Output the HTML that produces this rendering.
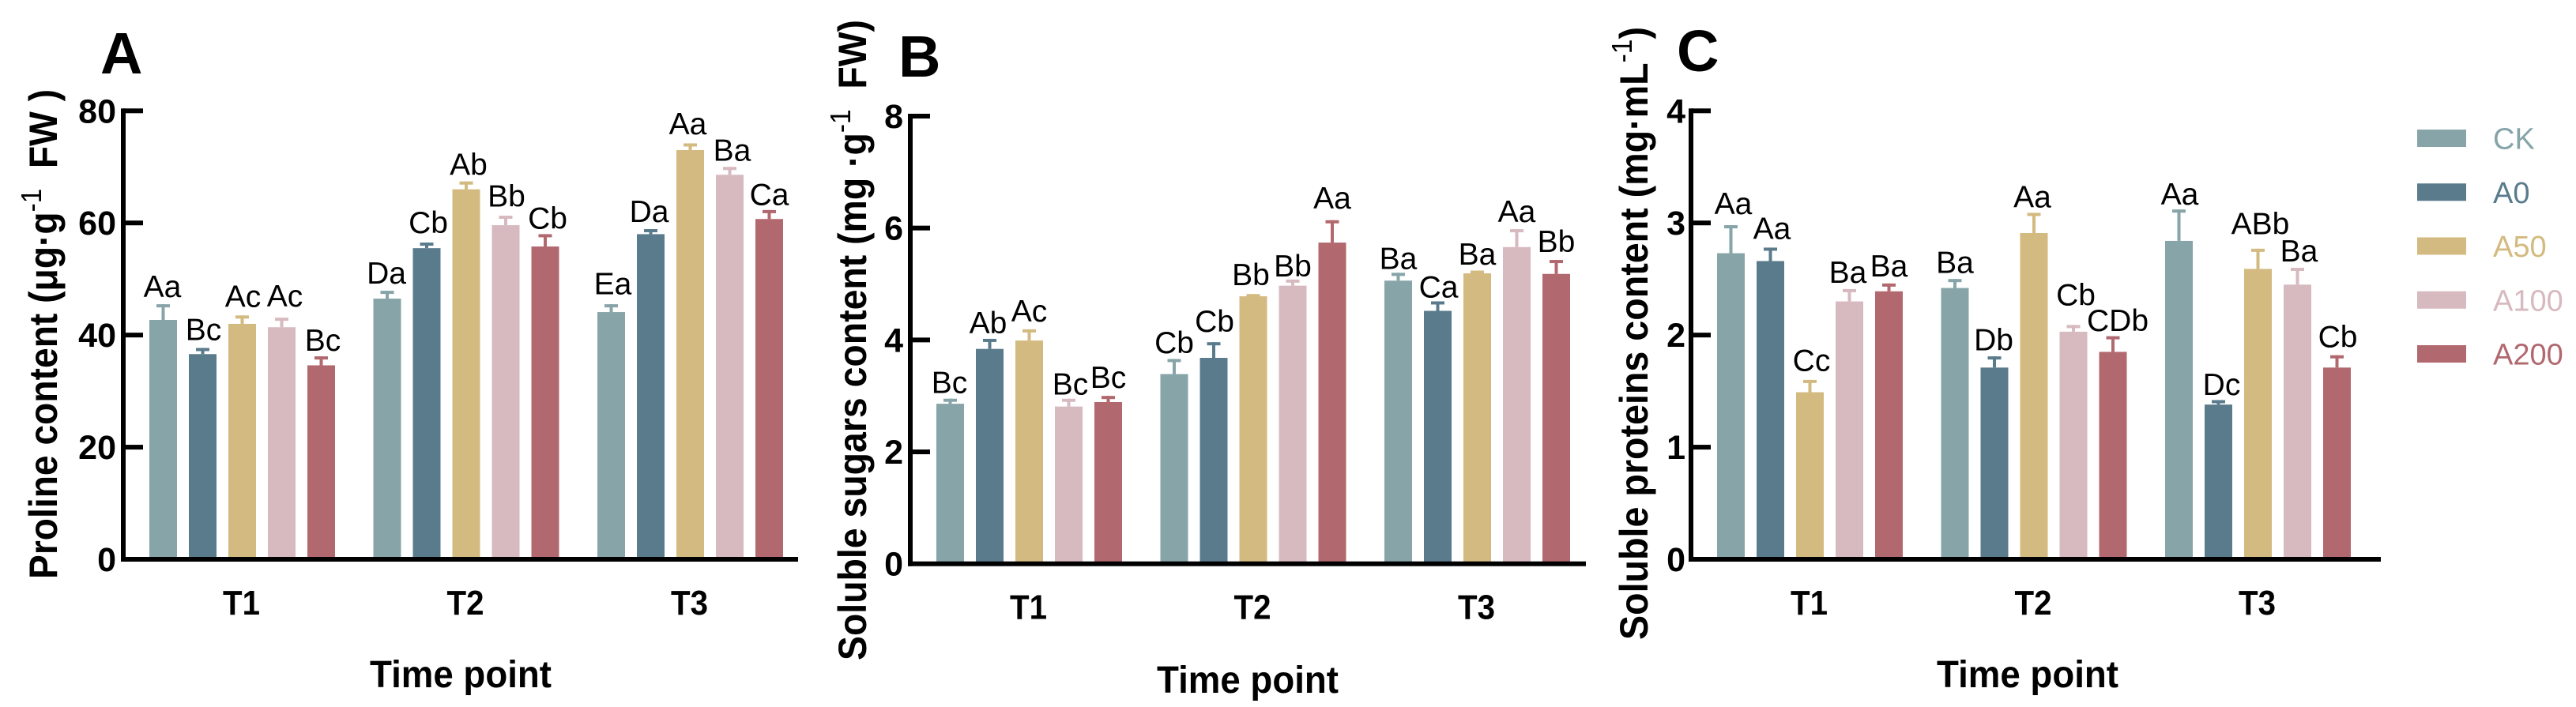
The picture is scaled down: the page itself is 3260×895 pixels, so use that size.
<!DOCTYPE html>
<html lang="en">
<head>
<meta charset="utf-8">
<title>Proline, soluble sugars and soluble proteins content</title>
<style>
html,body{margin:0;padding:0;background:#fff;}
svg{display:block;font-family:"Liberation Sans",Arial,sans-serif;}
</style>
</head>
<body>
<svg id="fig" xmlns="http://www.w3.org/2000/svg" width="3260" height="895" viewBox="0 0 3260 895">
  <rect x="0" y="0" width="3260" height="895" fill="#ffffff"/>

  <g id="panel-a"></g>
  <g id="panel-b"></g>
  <g id="panel-c"></g>

  <text x="127" y="93" font-size="74" font-weight="700">A</text>
  <text x="1137" y="97" font-size="74" font-weight="700">B</text>
  <text x="2122" y="90" font-size="74" font-weight="700">C</text>

  <text transform="translate(72,733) rotate(-90)" font-size="50" font-weight="700" textLength="620" lengthAdjust="spacingAndGlyphs">Proline content (μg·g<tspan dy="-20" font-size="36" font-weight="400">-1</tspan><tspan dy="20"> &#160;FW )</tspan></text>
  <text transform="translate(1096,836) rotate(-90)" font-size="50" font-weight="700" textLength="811" lengthAdjust="spacingAndGlyphs">Soluble sugars content (mg ·g<tspan dy="-20" font-size="36" font-weight="400">-1</tspan><tspan dy="20"> &#160;FW)</tspan></text>
  <text transform="translate(2085,810) rotate(-90)" font-size="50" font-weight="700" textLength="776" lengthAdjust="spacingAndGlyphs">Soluble proteins content (mg·mL<tspan dy="-20" font-size="36" font-weight="400">-1</tspan><tspan dy="20">)</tspan></text>

  <text x="583" y="870" text-anchor="middle" font-size="48" font-weight="700" textLength="230" lengthAdjust="spacingAndGlyphs">Time point</text>
  <text x="1579" y="877" text-anchor="middle" font-size="48" font-weight="700" textLength="230" lengthAdjust="spacingAndGlyphs">Time point</text>
  <text x="2566" y="870" text-anchor="middle" font-size="48" font-weight="700" textLength="230" lengthAdjust="spacingAndGlyphs">Time point</text>

  <g id="legend"></g>
</svg>

<script>
var categories = ["T1", "T2", "T3"];
var seriesNames = ["CK", "A0", "A50", "A100", "A200"];

var prolineTicks = [0, 20, 40, 60, 80];
var prolineMeans = [
  [42.7, 36.6, 42.0, 41.4, 34.6],
  [46.5, 55.5, 66.0, 59.6, 55.8],
  [44.1, 58.0, 73.0, 68.6, 60.7]
];
var prolineErrors = [
  [2.8, 1.1, 1.5, 1.7, 1.6],
  [1.4, 1.0, 1.4, 1.7, 2.2],
  [1.4, 0.9, 1.2, 1.4, 1.6]
];
var prolineLetters = [
  ["Aa", "Bc", "Ac", "Ac", "Bc"],
  ["Da", "Cb", "Ab", "Bb", "Cb"],
  ["Ea", "Da", "Aa", "Ba", "Ca"]
];

var sugarTicks = [0, 2, 4, 6, 8];
var sugarMeans = [
  [2.86, 3.84, 3.99, 2.81, 2.89],
  [3.39, 3.68, 4.78, 4.97, 5.74],
  [5.06, 4.52, 5.19, 5.66, 5.18]
];
var sugarErrors = [
  [0.09, 0.18, 0.20, 0.14, 0.11],
  [0.27, 0.28, 0.04, 0.11, 0.40],
  [0.14, 0.17, 0.05, 0.32, 0.25]
];
var sugarLetters = [
  ["Bc", "Ab", "Ac", "Bc", "Bc"],
  ["Cb", "Cb", "Bb", "Bb", "Aa"],
  ["Ba", "Ca", "Ba", "Aa", "Bb"]
];

var proteinTicks = [0, 1, 2, 3, 4];
var proteinMeans = [
  [2.73, 2.66, 1.49, 2.30, 2.39],
  [2.42, 1.71, 2.91, 2.03, 1.85],
  [2.84, 1.38, 2.59, 2.45, 1.71]
];
var proteinErrors = [
  [0.25, 0.12, 0.11, 0.11, 0.07],
  [0.08, 0.10, 0.18, 0.06, 0.14],
  [0.28, 0.04, 0.18, 0.15, 0.11]
];
var proteinLetters = [
  ["Aa", "Aa", "Cc", "Ba", "Ba"],
  ["Ba", "Db", "Aa", "Cb", "CDb"],
  ["Aa", "Dc", "ABb", "Ba", "Cb"]
];

var seriesColors = ["#87a5a9", "#5a7b8c", "#d3ba80", "#d7bac0", "#b1686e"];
var SVG_NS = "http://www.w3.org/2000/svg";

function mk(parent, tag, attrs, text) {
  var el = document.createElementNS(SVG_NS, tag);
  for (var k in attrs) { el.setAttribute(k, attrs[k]); }
  if (text !== undefined) { el.textContent = text; }
  parent.appendChild(el);
  return el;
}

function drawPanel(cfg) {
  var root = document.getElementById(cfg.id);
  var maxTick = cfg.ticks[cfg.ticks.length - 1];
  function yScale(v) { return cfg.y0 - v * (cfg.y0 - cfg.yTop) / maxTick; }
  function xScale(g, s) { return cfg.x0 + g * 283.5 + s * 50; }
  var barW = 35, capW = 17, capH = 4, stemW = 4;

  categories.forEach(function (cat, g) {
    seriesNames.forEach(function (name, s) {
      var mean = cfg.means[g][s];
      var err = cfg.errors[g][s];
      var x = xScale(g, s);
      var yTop = yScale(mean);
      var yErr = yScale(mean + err);
      var cx = x + barW / 2;

      var bar = mk(root, "rect", { x: x, y: yTop, width: barW, height: cfg.y0 - yTop, fill: seriesColors[s] });
      
      

      var stem = mk(root, "rect", { x: cx - stemW / 2, y: yErr, width: stemW, height: yTop - yErr, fill: seriesColors[s] });
      
      

      var cap = mk(root, "rect", { x: cx - capW / 2, y: yErr, width: capW, height: capH, fill: seriesColors[s] });
      
      

      var lab = mk(root, "text", {
        x: cx + cfg.labelDx[g][s],
        y: yErr - cfg.labelGap[g][s],
        "text-anchor": "middle",
        "font-size": 39,
        fill: "#000"
      }, cfg.letters[g][s]);
      
      
    });

    var catX = (xScale(g, 0) + xScale(g, 4) + barW) / 2 - 1;
    var catLabel = mk(root, "text", {
      x: catX, y: cfg.y0 + 70, "text-anchor": "middle", "font-size": 44, "font-weight": 700,
      textLength: 47, lengthAdjust: "spacingAndGlyphs"
    }, cat);
    
    
  });

  var yAxis = mk(root, "rect", { x: cfg.axisX - 3, y: cfg.yTop - 3, width: 6, height: cfg.y0 - cfg.yTop + 6, fill: "#000" });
  
  

  var xAxis = mk(root, "rect", { x: cfg.axisX - 3, y: cfg.y0 - 3, width: cfg.axisEnd - cfg.axisX + 3, height: 6, fill: "#000" });
  
  

  cfg.ticks.forEach(function (t) {
    var y = yScale(t);
    if (t !== 0) {
      var tick = mk(root, "rect", { x: cfg.axisX, y: y - 3, width: 25, height: 6, fill: "#000" });
      
      
    }
    var label = mk(root, "text", {
      x: cfg.tickRight, y: y + 15, "text-anchor": "end", "font-size": 43, "font-weight": 700
    }, String(t));
    
    
  });
}

drawPanel({
  id: "panel-a", ticks: prolineTicks, means: prolineMeans, errors: prolineErrors, letters: prolineLetters,
  x0: 189, y0: 708, yTop: 140.3, axisX: 156, axisEnd: 1010, tickRight: 147,
  labelGap: [[9, 10, 11, 14, 7], [9, 12, 8, 11.5, 7], [12.7, 9, 11.5, 8, 6.5]],
  labelDx: [[-1, 1, 1, 4, 2], [-1, 2, 3, 1, 3], [2, -2, -3, 3, 0]]
});
drawPanel({
  id: "panel-b", ticks: sugarTicks, means: sugarMeans, errors: sugarErrors, letters: sugarLetters,
  x0: 1185, y0: 713.7, yTop: 147, axisX: 1152, axisEnd: 2007, tickRight: 1143,
  labelGap: [[7, 7, 10, 5, 10], [7.5, 13, 11.5, 4, 15], [5, 5, 7.5, 9, 10]],
  labelDx: [[-1, -2, 0, 2, 0], [0, 1, -3, 0, 0], [0, 1, 0, 0, 0]]
});
drawPanel({
  id: "panel-c", ticks: proteinTicks, means: proteinMeans, errors: proteinErrors, letters: proteinLetters,
  x0: 2173, y0: 708, yTop: 140.3, axisX: 2140, axisEnd: 3013, tickRight: 2133,
  labelGap: [[14, 11, 11.5, 8, 9], [7.5, 7.5, 7, 25, 6.4], [6, 6.4, 18.4, 8, 10.4]],
  labelDx: [[3, 2, 2, -2, 0], [0, -1, -2, 3, 6], [1, 4, 3, 2, 1]]
});

var legendRoot = document.getElementById("legend");
seriesNames.forEach(function (name, s) {
  var swatch = mk(legendRoot, "rect", { x: 3059, y: 164 + s * 68.25, width: 62, height: 22, fill: seriesColors[s] });
  
  

  var label = mk(legendRoot, "text", { x: 3155, y: 188.5 + s * 68.25, "font-size": 38, fill: seriesColors[s] }, name);
  
  
});
</script>
</body>
</html>
